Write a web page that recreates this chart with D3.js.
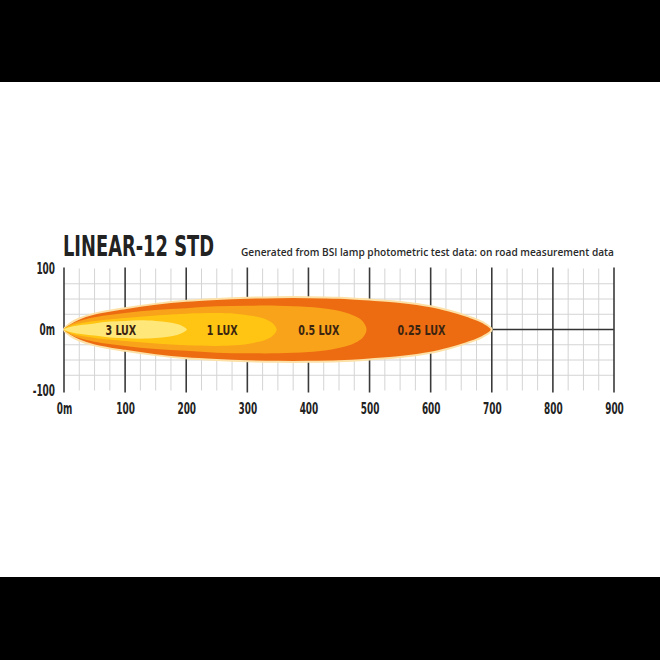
<!DOCTYPE html>
<html><head><meta charset="utf-8">
<script src="https://cdn.jsdelivr.net/npm/d3@7"></script>
<style>html,body{margin:0;padding:0;background:#000;} svg{display:block}</style>
</head><body><svg id="c" width="660" height="660"></svg>
<script>
// ---- data ----
const title = "LINEAR-12 STD";
const subtitle = "Generated from BSI lamp photometric test data: on road measurement data";
const xTicks = [0, 100, 200, 300, 400, 500, 600, 700, 800, 900];
const xTickLabels = ["0m", "100", "200", "300", "400", "500", "600", "700", "800", "900"];
const yTicks = [100, 0, -100];
const yTickLabels = ["100", "0m", "-100"];
const beamNames = ["0.25 LUX", "0.5 LUX", "1 LUX", "3 LUX"];
const labelDistance = [585, 417, 259, 93];
// [distance m, half width m]
const beam025 = [[0,0],[10,10],[25,18],[50,26],[100,35],[150,42],[200,47],[250,50],[300,52],[350,53],[400,53],[450,52],[500,49],[550,45],[600,38],[630,31],[660,22],[685,12],[700,0]];
const beam05  = [[0,0],[10,8],[25,14],[50,20],[100,27],[150,32],[200,35],[250,38],[300,39],[350,39],[400,37],[430,34],[460,28],[480,20],[490,12],[495,0]];
const beam1   = [[0,0],[10,6],[25,10],[50,14],[100,19],[150,23],[200,26],[250,27],[280,26],[310,22],[330,17],[342,10],[348,0]];
const beam3   = [[0,0],[10,4],[25,7],[50,10],[75,13],[100,14],[125,15],[150,14],[170,12],[185,9],[195,5],[201,0]];
const beams = [beam025, beam05, beam1, beam3];

// ---- styles ----
const colors = ["#ED6C12", "#F8A31A", "#FFC512", "#FFE77A"];
const condensed = "'Liberation Sans Narrow','DejaVu Sans Condensed','Roboto Condensed',sans-serif";

function squeeze(sel, k) {
  sel.each(function () {
    const w = this.getComputedTextLength();
    d3.select(this).attr("textLength", w * k).attr("lengthAdjust", "spacingAndGlyphs");
  });
}

const svg = d3.select("#c");
svg.append("rect").attr("width", 660).attr("height", 660).attr("fill", "#000");
svg.append("rect").attr("x", 0).attr("y", 82).attr("width", 660).attr("height", 495).attr("fill", "#fff");

const x = d3.scaleLinear().domain([0, 900]).range([64, 614]);
const y = d3.scaleLinear().domain([-100, 100]).range([390.5, 268.5]);

// minor grid
const g = svg.append("g");
const minorX = d3.range(0, 901, 25).filter(v => v % 100 !== 0);
const minorY = d3.range(-75, 76, 25);
g.selectAll(".mx").data(minorX).join("line")
  .attr("x1", d => x(d)).attr("x2", d => x(d))
  .attr("y1", y(100)).attr("y2", y(-100))
  .attr("stroke", "#d4d4d4").attr("stroke-width", 1);
g.selectAll(".my").data(minorY).join("line")
  .attr("x1", x(0)).attr("x2", x(900))
  .attr("y1", d => y(d)).attr("y2", d => y(d))
  .attr("stroke", d => d === 0 ? "#333" : "#d4d4d4").attr("stroke-width", d => d === 0 ? 1.6 : 1);
// major vertical lines
g.selectAll(".MX").data(xTicks).join("line")
  .attr("x1", d => x(d)).attr("x2", d => x(d))
  .attr("y1", y(100) - 1).attr("y2", y(-100) + 2)
  .attr("stroke", "#3a3a3a").attr("stroke-width", 1.6);

// beams
const line = d3.line().curve(d3.curveCatmullRomClosed.alpha(0.5));
beams.forEach((b, i) => {
  const top = b.map(d => [x(d[0]), y(d[1])]);
  const bottom = b.slice(1, -1).reverse().map(d => [x(d[0]), y(-d[1])]);
  svg.append("path")
    .attr("d", line(top.concat(bottom)))
    .attr("fill", colors[i])
    .attr("stroke", i === 0 ? "#FCE0A6" : "none")
    .attr("stroke-width", i === 0 ? 2 : 0);
});

// beam labels
const bl = svg.selectAll(".bl").data(beamNames).join("text")
  .attr("x", (d, i) => x(labelDistance[i]))
  .attr("y", y(0))
  .attr("dy", "0.36em")
  .attr("text-anchor", "middle")
  .attr("font-family", condensed).attr("font-weight", "bold").attr("font-size", 14)
  .attr("fill", "#3b2410")
  .text(d => d);
squeeze(bl, 0.76);

// axes
const xAxis = d3.axisBottom(x).tickValues(xTicks).tickSize(0).tickPadding(0)
  .tickFormat((d, i) => xTickLabels[i]);
const xa = svg.append("g").attr("transform", `translate(0,${403})`).call(xAxis);
xa.select(".domain").remove();
xa.selectAll("text").attr("font-family", condensed).attr("font-weight", "bold")
  .attr("font-size", 15).attr("fill", "#222");
squeeze(xa.selectAll("text"), 0.66);

const yAxis = d3.axisLeft(y).tickValues(yTicks).tickSize(0).tickPadding(0)
  .tickFormat((d, i) => yTickLabels[i]);
const ya = svg.append("g").attr("transform", `translate(${55},0)`).call(yAxis);
ya.select(".domain").remove();
ya.selectAll("text").attr("font-family", condensed).attr("font-weight", "bold")
  .attr("font-size", 15).attr("fill", "#222");
squeeze(ya.selectAll("text"), 0.66);

// titles
svg.append("text").attr("x", 63).attr("y", 256)
  .attr("font-family", condensed).attr("font-weight", "bold").attr("font-size", 28)
  .attr("textLength", 151).attr("lengthAdjust", "spacingAndGlyphs")
  .attr("fill", "#222").text(title);
svg.append("text").attr("x", 241).attr("y", 256)
  .attr("font-family", "'Open Sans','Noto Sans',sans-serif").attr("font-size", 11).attr("font-weight", 600)
  .attr("textLength", 373).attr("lengthAdjust", "spacingAndGlyphs")
  .attr("fill", "#2a2a2a").text(subtitle);
</script></body></html>
